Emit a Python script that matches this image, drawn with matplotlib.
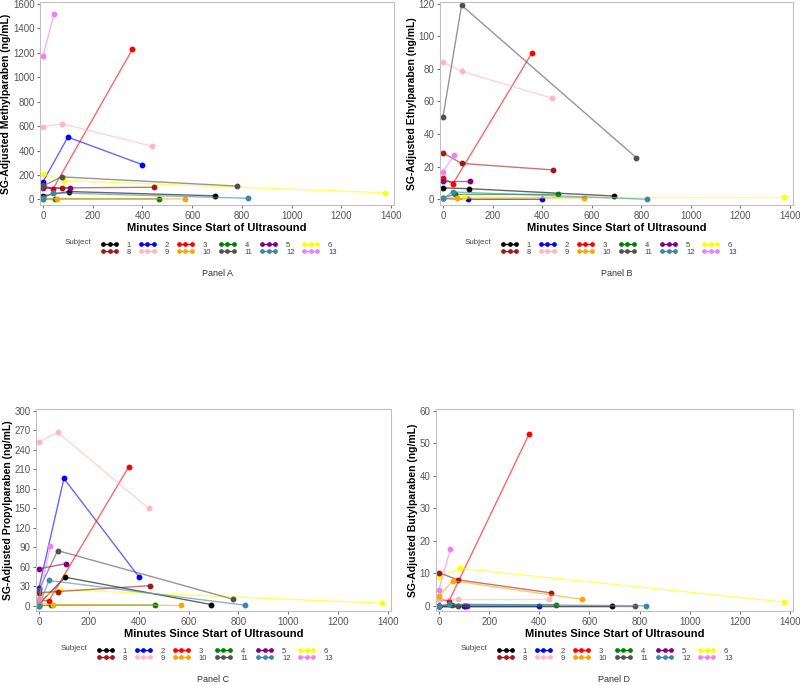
import matplotlib
matplotlib.use('Agg')
from matplotlib import pyplot as plt
from matplotlib.lines import Line2D
from matplotlib.colors import to_rgba

plt.rcParams['font.family'] = ['Liberation Sans', 'DejaVu Sans']

# subjects, their colours and sampling times (minutes)
subjects = [1, 2, 3, 4, 5, 6, 8, 9, 10, 11, 12, 13]
colors = ['#000000', '#0000ff', '#ff0000', '#008000', '#800080', '#ffff00',
          '#a01818', '#ffb6c1', '#ffa500', '#505050', '#3a87a8', '#ee82ee']
times = [[0, 105, 690], [0, 100, 400], [0, 40, 360], [0, 50, 465], [0, 110],
         [0, 85, 1375], [0, 75, 445], [0, 75, 440], [0, 55, 570],
         [0, 75, 780], [0, 40, 825], [0, 45]]

# SG-adjusted concentrations (ng/mL)
methyl = [[30, 65, 30], [145, 510, 285], [115, 85, 1230], [3, 5, 5], [90, 95],
          [210, 155, 55], [100, 95, 100], [595, 620, 435], [10, 5, 5],
          [110, 185, 110], [10, 55, 10], [1175, 1520]]
ethyl = [[7, 6.5, 2], [0.5, 0, 0], [13, 9.5, 90], [1, 3, 3], [11.5, 11.5],
         [1.5, 1.5, 1.5], [28.5, 22, 18], [84, 78.5, 62], [1, 0.5, 1],
         [50.5, 119, 25.5], [0.5, 4.5, 0], [17, 27]]
propyl = [[3, 44, 2], [28, 196, 45], [8, 8, 214], [0, 1, 1], [57, 65],
          [12, 25, 4], [20, 22, 31], [252, 267, 150], [3, 2, 0.5],
          [25, 85, 10], [0, 39, 1], [10, 92]]
butyl = [[0, 0, 0], [0, 0, 0], [2, 1.5, 53], [0, 0.3, 0.3], [0, 0],
         [9, 11.5, 1.2], [10.2, 8, 4], [2, 2, 2], [3, 7.7, 2],
         [0, 0, 0], [0, 0.5, 0], [5, 17.5]]

panels = [
    ('A', methyl, 'SG-Adjusted Methylparaben (ng/mL)', range(0, 1601, 200), (-45, 1615)),
    ('B', ethyl, 'SG-Adjusted Ethylparaben (ng/mL)', range(0, 121, 20), (-3.5, 121)),
    ('C', propyl, 'SG-Adjusted Propylparaben (ng/mL)', range(0, 301, 30), (-8, 303)),
    ('D', butyl, 'SG-Adjusted Butylparaben (ng/mL)', range(0, 61, 10), (-1.6, 60.6)),
]

W, H = 800, 685
# axes rects in pixels: left, top, right, bottom
rects = {'A': (40, 2, 394, 205), 'B': (440, 2, 793, 205),
         'C': (36, 409, 391, 611), 'D': (436, 409, 793, 611)}

fig = plt.figure(figsize=(8, 6.85), dpi=100)

def lcol(c):
    r, g, b, _ = to_rgba(c)
    return (r, g, b, 0.6)

for name, vals, ylabel, yticks, ylim in panels:
    l, t, r, b = rects[name]
    ax = fig.add_axes([l / W, 1 - b / H, (r - l) / W, (b - t) / H])
    for s, c, tt, v in zip(subjects, colors, times, vals):
        ax.plot(tt, v, color=lcol(c), lw=1, marker='o', markersize=3.2,
                markerfacecolor=c, markeredgecolor=c)
    ax.set_xlim(-12, 1412)
    ax.set_ylim(*ylim)
    ax.set_xticks(range(0, 1401, 200))
    ax.set_yticks(list(yticks))
    ax.tick_params(labelsize=7, colors='#555555', length=2.5, width=0.6, pad=1.5)
    for sp in ax.spines.values():
        sp.set_color('#c0c0c0')
        sp.set_linewidth(0.8)
    ax.set_ylabel(ylabel, fontsize=7.5, fontweight='bold', labelpad=1)
    ax.set_xlabel('Minutes Since Start of Ultrasound', fontsize=8,
                  fontweight='bold', labelpad=2)

    # legend: 2 rows x 6 columns, filled column by column
    order = [0, 6, 1, 7, 2, 8, 3, 9, 4, 10, 5, 11]
    handles = [Line2D([], [], color=colors[i], marker='o', markersize=2.4, lw=1)
               for i in order]
    labels = [str(subjects[i]) for i in order]
    cx = (l + r) / 2
    leg_top = b + 36
    fig.text((l + 25) / W, 1 - (leg_top + 2) / H, 'Subject', fontsize=5.8,
             color='#444444', va='center')
    fig.legend(handles, labels, ncol=6, loc='upper left', numpoints=3,
               bbox_to_anchor=((l + 57) / W, 1 - (leg_top - 3) / H),
               frameon=False, fontsize=5.5, handlelength=2.3, handletextpad=1.1,
               columnspacing=1.0, labelspacing=-0.1, borderpad=0,
               labelcolor='#444444')
    fig.text(cx / W, 1 - (b + 69) / H, 'Panel ' + name, fontsize=6.5,
             color='#333333', ha='center', va='center')

fig.savefig('out.png', dpi=100)
